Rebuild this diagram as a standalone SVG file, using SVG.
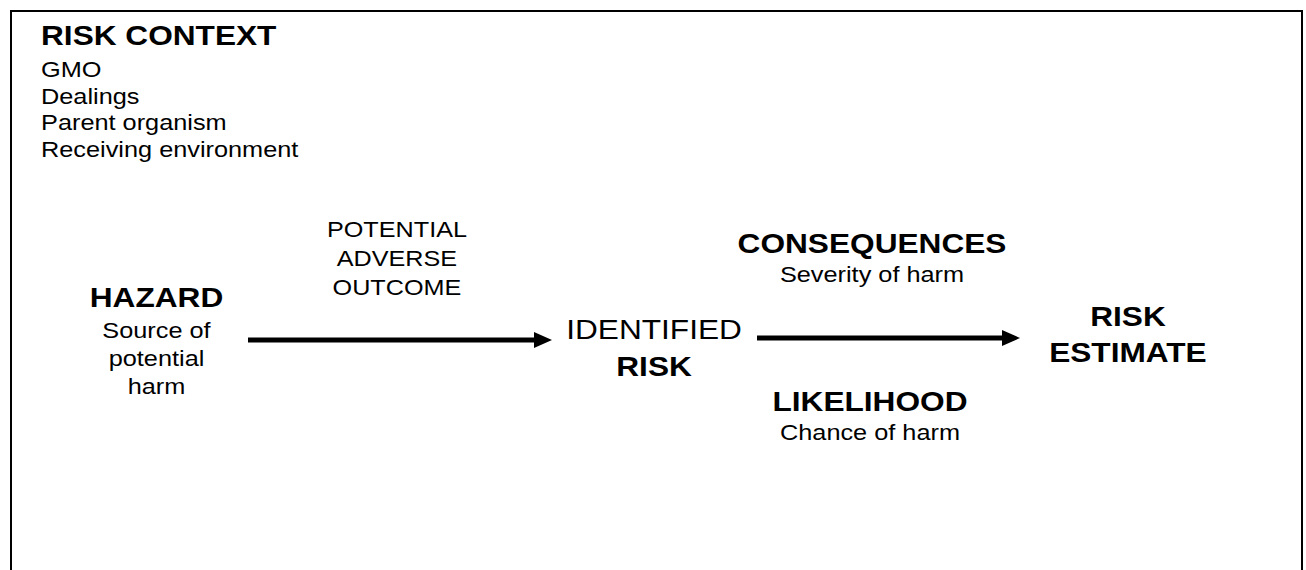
<svg xmlns="http://www.w3.org/2000/svg" width="1306" height="570" viewBox="0 0 1306 570">
  <style>
    text { font-family: "Liberation Sans", Arial, sans-serif; fill: #000; }
    .b { font-weight: bold; font-size: 28px; }
    .r { font-size: 22.4px; }
    .rl { font-size: 28px; }
    .m { font-size: 22.3px; }
    .c { text-anchor: middle; }
    .conn { stroke: #000; stroke-width: 5; fill: none; marker-end: url(#ah); }
  </style>
  <defs>
    <marker id="ah" markerUnits="userSpaceOnUse" viewBox="0 0 18 16" markerWidth="18" markerHeight="16" refX="1" refY="8" orient="auto">
      <path d="M0,0 L18,8 L0,16 Z" fill="#000"/>
    </marker>
  </defs>
  <rect width="1306" height="570" fill="#fff"/>
  <path id="frame" d="M11,575 L11,11 L1302,11 L1302,575" fill="none" stroke="#000" stroke-width="2"/>

  <g id="risk-context" transform="scale(1.13 1)">
    <text class="b" x="36.3" y="45">RISK CONTEXT</text>
    <text class="r" x="36.3" y="77">GMO</text>
    <text class="r" x="36.3" y="104">Dealings</text>
    <text class="r" x="36.3" y="130.5">Parent organism</text>
    <text class="r" x="36.3" y="157">Receiving environment</text>
  </g>

  <g id="hazard" transform="scale(1.13 1)">
    <text class="b c" x="138.5" y="307">HAZARD</text>
    <text class="r c" x="138.5" y="338">Source of</text>
    <text class="r c" x="138.5" y="366">potential</text>
    <text class="r c" x="138.5" y="394">harm</text>
  </g>

  <g id="potential-adverse-outcome" transform="scale(1.13 1)">
    <text class="m c" x="351.3" y="237">POTENTIAL</text>
    <text class="m c" x="351.3" y="266">ADVERSE</text>
    <text class="m c" x="351.3" y="295">OUTCOME</text>
  </g>

  <g id="identified-risk" transform="scale(1.13 1)">
    <text class="rl c" x="578.8" y="339">IDENTIFIED</text>
    <text class="b c" x="578.8" y="376">RISK</text>
  </g>

  <g id="consequences" transform="scale(1.13 1)">
    <text class="b c" x="771.7" y="253">CONSEQUENCES</text>
    <text class="r c" x="771.7" y="282">Severity of harm</text>
  </g>

  <g id="likelihood" transform="scale(1.13 1)">
    <text class="b c" x="769.9" y="411">LIKELIHOOD</text>
    <text class="r c" x="769.9" y="440">Chance of harm</text>
  </g>

  <g id="risk-estimate" transform="scale(1.13 1)">
    <text class="b c" x="998.2" y="326">RISK</text>
    <text class="b c" x="998.2" y="362">ESTIMATE</text>
  </g>

  <g id="connectors">
    <line class="conn" x1="248" y1="340" x2="535" y2="340"/>
    <line class="conn" x1="757" y1="338" x2="1003" y2="338"/>
  </g>
</svg>
